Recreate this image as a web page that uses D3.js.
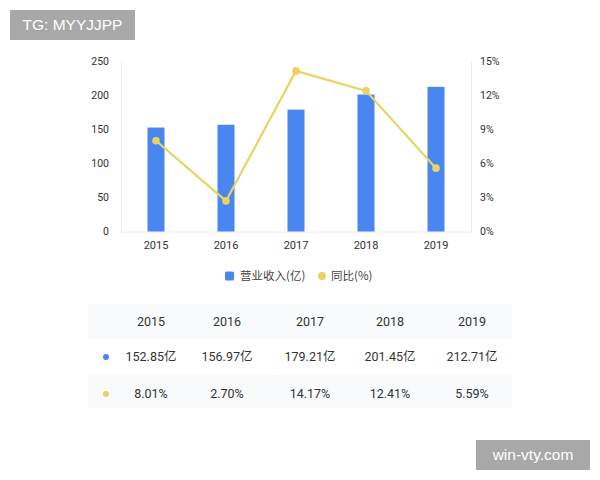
<!DOCTYPE html>
<html>
<head>
<meta charset="utf-8">
<script src="https://cdn.jsdelivr.net/npm/d3@7"></script>
<style>
  body { margin: 0; background: #fff; }
  svg { display: block; font-family: "Noto Sans CJK SC", "Noto Sans", sans-serif; }
</style>
</head>
<body>
<div id="chart"></div>
<script>
// data
const years = ["2015", "2016", "2017", "2018", "2019"];
const revenue = [152.85, 156.97, 179.21, 201.45, 212.71];
const growth = [8.01, 2.70, 14.17, 12.41, 5.59];
const leftTicks = [0, 50, 100, 150, 200, 250];
const rightTicks = [0, 3, 6, 9, 12, 15];

const BAR_COLOR = "#4a86ef";
const LINE_COLOR = "#e8d462";
const TEXT_COLOR = "#333";

const svg = d3.select("#chart").append("svg")
  .attr("width", 600).attr("height", 480);

const PLOT = { left: 121, right: 471, top: 61.5, bottom: 231.5 };

const x = d3.scaleBand().domain(years).range([PLOT.left, PLOT.right]);
const yL = d3.scaleLinear().domain([0, 250]).range([PLOT.bottom, PLOT.top]);
const yR = d3.scaleLinear().domain([0, 15]).range([PLOT.bottom, PLOT.top]);

// axes
const axisLeft = svg.append("g").attr("transform", `translate(${PLOT.left},0)`)
  .call(d3.axisLeft(yL).tickValues(leftTicks).tickSize(0).tickPadding(12));
const axisRight = svg.append("g").attr("transform", `translate(${PLOT.right},0)`)
  .call(d3.axisRight(yR).tickValues(rightTicks).tickSize(0).tickPadding(9).tickFormat(d => d + "%"));
const axisBottom = svg.append("g").attr("transform", `translate(0,${PLOT.bottom})`)
  .call(d3.axisBottom(x).tickSize(0).tickPadding(10));

[axisLeft, axisRight, axisBottom].forEach(g => {
  g.select(".domain").attr("stroke", "#ececec").attr("stroke-width", 1);
  g.selectAll("text").attr("fill", TEXT_COLOR).attr("font-size", "10.5px")
    .attr("font-family", "Roboto, 'Noto Sans', sans-serif");
});
axisBottom.selectAll("text").attr("font-size", "11px");
axisBottom.select(".domain").attr("d", `M${PLOT.left},0.5H${PLOT.right}`);

// bars
const BAR_W = 17;
svg.append("g").selectAll("rect")
  .data(years)
  .join("rect")
  .attr("x", d => x(d) + x.bandwidth() / 2 - BAR_W / 2)
  .attr("y", (d, i) => yL(revenue[i]))
  .attr("width", BAR_W)
  .attr("height", (d, i) => PLOT.bottom - yL(revenue[i]))
  .attr("fill", BAR_COLOR);

// line
const line = d3.line()
  .x((d, i) => x(years[i]) + x.bandwidth() / 2)
  .y(d => yR(d));
svg.append("path")
  .datum(growth)
  .attr("d", line)
  .attr("fill", "none")
  .attr("stroke", LINE_COLOR)
  .attr("stroke-width", 2.2);
svg.append("g").selectAll("circle")
  .data(growth)
  .join("circle")
  .attr("cx", (d, i) => x(years[i]) + x.bandwidth() / 2)
  .attr("cy", d => yR(d))
  .attr("r", 3.8)
  .attr("fill", LINE_COLOR);

// legend
const legend = svg.append("g").attr("font-size", "11.5px");
legend.append("rect").attr("x", 225).attr("y", 271.5).attr("width", 9).attr("height", 9)
  .attr("rx", 1.5).attr("fill", BAR_COLOR);
legend.append("text").attr("x", 240).attr("y", 280).text("营业收入(亿)").attr("fill", "#444");
legend.append("circle").attr("cx", 322).attr("cy", 276).attr("r", 4).attr("fill", LINE_COLOR);
legend.append("text").attr("x", 331).attr("y", 280).text("同比(%)").attr("fill", "#444");

// table
const TABLE = { left: 88, right: 512, top: 304 };
const colX = [151, 227, 310, 390, 472];
svg.append("rect").attr("x", TABLE.left).attr("y", TABLE.top)
  .attr("width", TABLE.right - TABLE.left).attr("height", 34).attr("fill", "#f9fafc");
svg.append("rect").attr("x", TABLE.left).attr("y", TABLE.top + 71)
  .attr("width", TABLE.right - TABLE.left).attr("height", 33).attr("fill", "#f9fafc");

const tableRows = [
  years,
  revenue.map(v => v.toFixed(2) + "亿"),
  growth.map(v => v.toFixed(2) + "%")
];
const rowY = [322, 357, 394];
tableRows.forEach((row, r) => {
  svg.append("g").selectAll("text")
    .data(row)
    .join("text")
    .attr("x", (d, i) => colX[i])
    .attr("y", rowY[r])
    .attr("dy", "0.35em")
    .attr("text-anchor", "middle")
    .attr("font-size", "12.5px")
    .attr("font-family", "Roboto, 'Noto Sans CJK SC', sans-serif")
    .attr("fill", TEXT_COLOR)
    .text(d => d);
});
svg.append("circle").attr("cx", 106).attr("cy", 357).attr("r", 3).attr("fill", BAR_COLOR);
svg.append("circle").attr("cx", 106).attr("cy", 394).attr("r", 3).attr("fill", LINE_COLOR);

// watermarks
function stamp(x0, y0, w, h, label) {
  svg.append("rect").attr("x", x0).attr("y", y0).attr("width", w).attr("height", h).attr("fill", "#a8a8a8");
  svg.append("text").attr("x", x0 + w / 2).attr("y", y0 + h / 2).attr("dy", "0.35em")
    .attr("text-anchor", "middle").attr("fill", "#fff").attr("font-size", "15.5px")
    .attr("font-family", "'Liberation Sans', Arial, sans-serif").text(label);
}
stamp(10, 10, 125, 30, "TG: MYYJJPP");
stamp(476, 440, 114, 30, "win-vty.com");
</script>
</body>
</html>
